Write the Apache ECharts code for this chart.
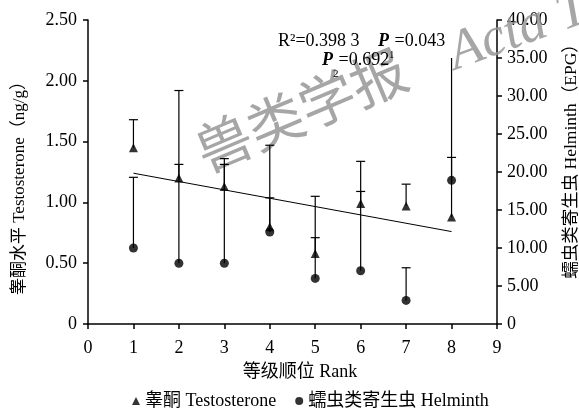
<!DOCTYPE html>
<html><head><meta charset="utf-8">
<script src="https://cdn.jsdelivr.net/npm/echarts@6/dist/echarts.min.js"></script>
<style>html,body{margin:0;padding:0;background:#fff}#c{width:579px;height:408px}</style>
</head><body><div id="c"></div>
<script>
// ---- data ----
const ranks = [1, 2, 3, 4, 5, 6, 7, 8];
const testosteroneMean  = [1.45, 1.20, 1.13, 0.80, 0.58, 0.99, 0.97, 0.88];
const testosteroneUpper = [1.68, 1.92, 1.36, 1.47, 0.71, 1.09, 1.15, 1.37];
const helminthMean  = [10.0, 8.0, 8.0, 12.1, 6.0, 7.0, 3.1, 18.9];
const helminthUpper = [19.3, 21.0, 21.0, 16.6, 16.8, 21.4, 7.4, 35.0];
const helminthCap   = [1, 1, 1, 1, 1, 1, 1, 0];
const regressionX = [1, 8];
const regressionY = [1.24, 0.76];
const xTickLabels = ['0','1','2','3','4','5','6','7','8','9'];
const leftTickLabels = ['0','0.50','1.00','1.50','2.00','2.50'];
const rightTickLabels = ['0','5.00','10.00','15.00','20.00','25.00','30.00','35.00','40.00'];

const FONT = '"Liberation Serif", "Noto Sans CJK SC", serif';
const chart = echarts.init(document.getElementById('c'), null, {renderer: 'canvas'});

// text measuring for the statistics annotation
const mctx = document.createElement('canvas').getContext('2d');
function tw(text, size, style) {
  mctx.font = (style || '') + ' ' + size + 'px "Liberation Serif", serif';
  return mctx.measureText(text).width;
}
function runText(x0, yMid, parts) {
  // parts: [text, size, fontStyle, fontWeight, dy]
  const out = [];
  let x = x0;
  parts.forEach(p => {
    const st = (p[2] || 'normal') + ' ' + (p[3] || 'normal');
    out.push({type: 'text', z: 10, x: x, y: yMid + (p[4] || 0), silent: true,
      style: {text: p[0], fontFamily: '"Liberation Serif", serif', fontSize: p[1],
        fontStyle: p[2] || 'normal', fontWeight: p[3] || 'normal', fill: '#000',
        align: 'left', verticalAlign: 'middle'}});
    x += tw(p[0], p[1], st);
  });
  return out;
}

function errRender(params, api) {
  const x = api.value(0), m = api.value(1), u = api.value(2), cap = api.value(3);
  const p0 = api.coord([x, m]), p1 = api.coord([x, u]);
  const st = {stroke: '#000', lineWidth: 1.2};
  const children = [{type: 'line', shape: {x1: p0[0], y1: p0[1], x2: p1[0], y2: p1[1]}, style: st}];
  if (cap) children.push({type: 'line', shape: {x1: p1[0] - 4.5, y1: p1[1], x2: p1[0] + 4.5, y2: p1[1]}, style: st});
  return {type: 'group', children: children};
}

const tData = ranks.map((r, i) => [r, testosteroneMean[i]]);
const hData = ranks.map((r, i) => [r, helminthMean[i]]);
const tErr = ranks.map((r, i) => [r, testosteroneMean[i], testosteroneUpper[i], 1]);
const hErr = ranks.map((r, i) => [r, helminthMean[i], helminthUpper[i], helminthCap[i]]);
const regData = regressionX.map((x, i) => [x, regressionY[i]]);

const axisLine = {show: true, lineStyle: {color: '#000', width: 1.5}};
const axisTick = {show: true, length: 5, lineStyle: {color: '#000', width: 1.5}};

const stats = []
  .concat(runText(278, 41.5, [['R²=0.398 3', 18]]))
  .concat(runText(378, 41.5, [['P', 18, 'italic', 'bold'], ['1', 11, 'normal', 'normal', 14], ['=0.043', 18]]))
  .concat(runText(322, 60, [['P', 18, 'italic', 'bold'], ['2', 11, 'normal', 'normal', 14], ['=0.692', 18]]));

const option = {
  animation: false,
  backgroundColor: '#fff',
  grid: {left: 88, right: 82, top: 20, bottom: 84},
  xAxis: {
    type: 'value', min: 0, max: 9, interval: 1,
    axisLine: axisLine, axisTick: axisTick, splitLine: {show: false},
    axisLabel: {color: '#000', fontFamily: FONT, fontSize: 18, margin: 15,
      formatter: v => xTickLabels[Math.round(v)]}
  },
  yAxis: [{
    type: 'value', min: 0, max: 2.5, interval: 0.5, position: 'left',
    axisLine: axisLine, axisTick: axisTick, splitLine: {show: false},
    axisLabel: {color: '#000', fontFamily: FONT, fontSize: 18, margin: 11,
      formatter: v => leftTickLabels[Math.round(v / 0.5)]}
  }, {
    type: 'value', min: 0, max: 40, interval: 5, position: 'right',
    axisLine: axisLine, axisTick: axisTick, splitLine: {show: false},
    axisLabel: {color: '#000', fontFamily: FONT, fontSize: 18, margin: 10,
      formatter: v => rightTickLabels[Math.round(v / 5)]}
  }],
  legend: {
    left: 127, top: 387, itemWidth: 8, itemHeight: 8, itemGap: 19,
    textStyle: {color: '#000', fontFamily: FONT, fontSize: 18},
    data: [{name: '睾酮 Testosterone', icon: 'triangle'}, {name: '蠕虫类寄生虫 Helminth', icon: 'circle'}]
  },
  graphic: [
    {type: 'text', z: 1, x: 301, y: 110, rotation: 0.40, silent: true,
      style: {text: '兽类学报', fontFamily: '"Noto Sans CJK SC", sans-serif', fontSize: 56,
        fill: 'rgba(150,150,150,0.85)', align: 'center', verticalAlign: 'middle'}},
    {type: 'text', z: 1, x: 460, y: 82, rotation: 0.35, silent: true,
      style: {text: 'Acta Theriologica Sinica', fontFamily: '"Liberation Serif", serif', fontStyle: 'italic',
        fontSize: 55, fill: 'rgba(150,150,150,0.85)', align: 'left', verticalAlign: 'bottom'}},
    {type: 'text', z: 10, x: 20, y: 184, rotation: Math.PI / 2,
      style: {text: '睾酮水平 Testosterone（ng/g）', fontFamily: FONT, fontSize: 17, fill: '#000',
        align: 'center', verticalAlign: 'middle'}},
    {type: 'text', z: 10, x: 571, y: 157, rotation: Math.PI / 2,
      style: {text: '蠕虫类寄生虫 Helminth（EPG）', fontFamily: FONT, fontSize: 17.5, fill: '#000',
        align: 'center', verticalAlign: 'middle'}},
    {type: 'text', z: 10, x: 300, y: 372,
      style: {text: '等级顺位 Rank', fontFamily: FONT, fontSize: 18, fill: '#000',
        align: 'center', verticalAlign: 'middle'}}
  ].concat(stats),
  series: [
    {type: 'custom', name: 'tErr', xAxisIndex: 0, yAxisIndex: 0, renderItem: errRender, data: tErr, z: 3,
      encode: {x: 0, y: [1, 2]}, silent: true},
    {type: 'custom', name: 'hErr', xAxisIndex: 0, yAxisIndex: 1, renderItem: errRender, data: hErr, z: 3,
      encode: {x: 0, y: [1, 2]}, silent: true},
    {type: 'line', name: 'reg', xAxisIndex: 0, yAxisIndex: 0, data: regData, showSymbol: false, z: 3,
      lineStyle: {color: '#000', width: 1}, silent: true},
    {type: 'scatter', name: '睾酮 Testosterone', xAxisIndex: 0, yAxisIndex: 0, data: tData,
      symbol: 'triangle', symbolSize: 9, itemStyle: {color: '#000'}, z: 5},
    {type: 'scatter', name: '蠕虫类寄生虫 Helminth', xAxisIndex: 0, yAxisIndex: 1, data: hData,
      symbol: 'circle', symbolSize: 9, itemStyle: {color: '#000'}, z: 5}
  ]
};
chart.setOption(option);
</script>
</body></html>
